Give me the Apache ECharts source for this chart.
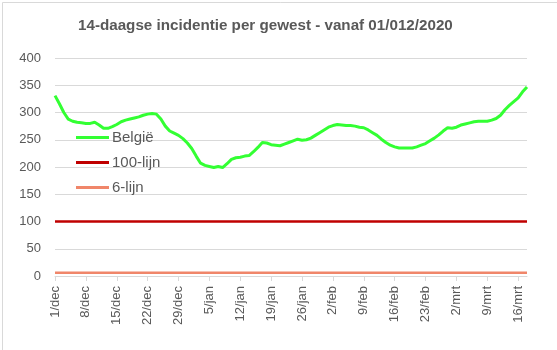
<!DOCTYPE html>
<html>
<head>
<meta charset="utf-8">
<script src="https://cdn.jsdelivr.net/npm/echarts@6/dist/echarts.min.js"></script>
<style>
html,body{margin:0;padding:0;background:#fff;}
#c{width:557px;height:350px;}
</style>
</head>
<body>
<div id="c"></div>
<script>
// Dates 1/dec/2020 .. 18/mrt/2021
const monthNames = ['jan','feb','mrt','apr','mei','jun','jul','aug','sep','okt','nov','dec'];
const startDate = new Date(2020, 11, 1);
const dayCount = 108;
const categories = [];
for (let i = 0; i < dayCount; i++) {
  const d = new Date(startDate.getFullYear(), startDate.getMonth(), startDate.getDate() + i);
  categories.push(d.getDate() + '/' + monthNames[d.getMonth()]);
}

const belgie = [
  331,316,300,288,284,282,281,280,280,282,
  277,271,271,274,278,283,286,288,290,292,
  295,297,298,297,288,275,266,262,258,252,
  244,234,220,207,203,201,199,201,199,206,
  214,217,218,220,221,228,236,245,244,241,
  240,239,242,245,248,251,249,250,253,258,
  263,268,273,276,278,277,276,276,275,273,
  272,268,263,258,251,245,240,237,235,235,
  235,235,237,240,243,248,253,259,266,272,
  271,273,277,279,281,283,284,284,284,286,
  289,295,305,313,320,327,338,347
];
const lijn100Value = 100;
const lijn6Value = 6;
const lijn100 = categories.map(() => lijn100Value);
const lijn6 = categories.map(() => lijn6Value);

const yTicks = { min: 0, max: 400, interval: 50 };
const seriesNames = ['België', '100-lijn', '6-lijn'];

const chart = echarts.init(document.getElementById('c'), null, { renderer: 'canvas' });
const txt = '#595959';
const font = 'Liberation Sans';
chart.setOption({
  animation: false,
  backgroundColor: '#fff',
  title: {
    text: '14-daagse incidentie per gewest - vanaf 01/012/2020',
    left: 73,
    top: 13,
    textStyle: { color: txt, fontSize: 15.2, fontWeight: 'bold', fontFamily: font }
  },
  graphic: [{
    type: 'rect', left: 0, top: 0,
    shape: { x: 0.5, y: 0.5, width: 556, height: 349 },
    style: { fill: 'none', stroke: '#d9d9d9', lineWidth: 1 },
    silent: true
  }],
  legend: {
    orient: 'vertical',
    left: 71,
    top: 125,
    icon: 'rect',
    itemWidth: 33,
    itemHeight: 3,
    itemGap: 10,
    textStyle: { color: txt, fontSize: 15, fontFamily: font, padding: [0, 0, 0, -2] },
    data: seriesNames
  },
  grid: { left: 55, right: 30, top: 58, bottom: 74, containLabel: false },
  xAxis: {
    type: 'category',
    data: categories,
    boundaryGap: false,
    axisLine: { lineStyle: { color: '#d9d9d9', width: 1 } },
    axisTick: { show: true, interval: (i) => i % 7 === 0, length: 5, lineStyle: { color: '#d9d9d9' } },
    axisLabel: {
      interval: (i) => i % 7 === 0,
      rotate: 90,
      color: txt,
      fontSize: 13,
      fontFamily: font,
      margin: 10
    },
    splitLine: { show: false }
  },
  yAxis: {
    type: 'value',
    min: yTicks.min, max: yTicks.max, interval: yTicks.interval,
    axisLine: { show: false },
    axisTick: { show: false },
    axisLabel: { color: txt, fontSize: 13, fontFamily: font, margin: 14 },
    splitLine: { lineStyle: { color: '#d9d9d9', width: 1 } }
  },
  series: [
    {
      name: seriesNames[0], type: 'line', data: belgie, symbol: 'none', smooth: false,
      lineStyle: { color: '#33ff33', width: 3 }, itemStyle: { color: '#33ff33' }, z: 5
    },
    {
      name: seriesNames[1], type: 'line', data: lijn100, symbol: 'none',
      lineStyle: { color: '#c00000', width: 2.5 }, itemStyle: { color: '#c00000' }, z: 4
    },
    {
      name: seriesNames[2], type: 'line', data: lijn6, symbol: 'none',
      lineStyle: { color: '#f0866a', width: 2.5 }, itemStyle: { color: '#f0866a' }, z: 4
    }
  ]
});
</script>
</body>
</html>
